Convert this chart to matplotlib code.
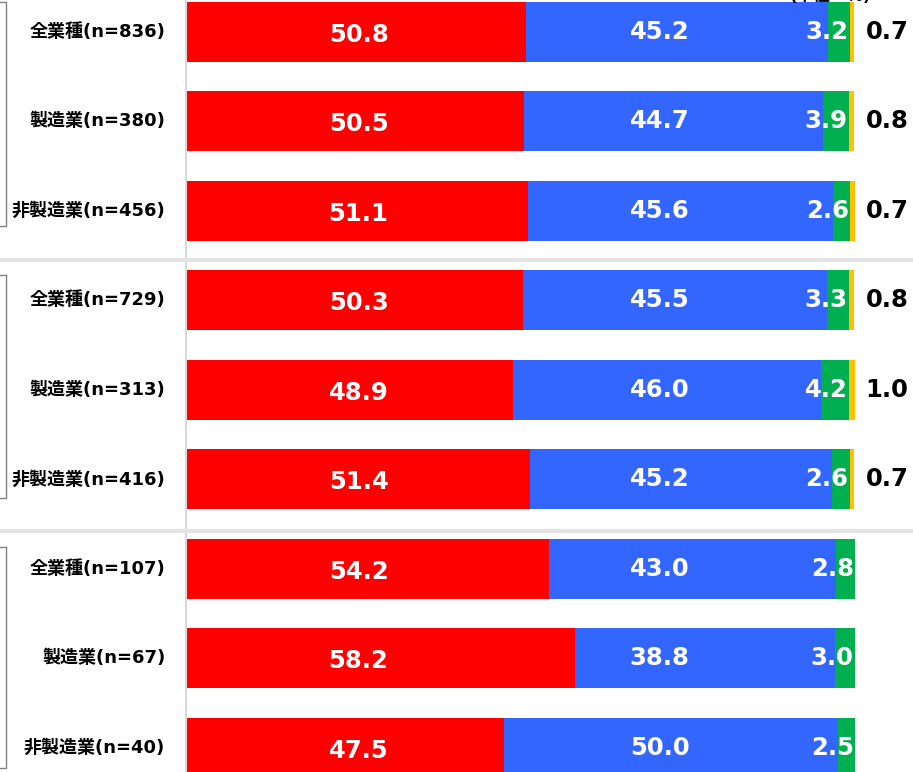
import numpy as np
import matplotlib
from matplotlib import pyplot as plt
from matplotlib.lines import Line2D

plt.rcParams['font.family'] = ['DejaVu Sans', 'Noto Sans CJK JP']

labels = ['全業種(n=836)', '製造業(n=380)', '非製造業(n=456)',
          '全業種(n=729)', '製造業(n=313)', '非製造業(n=416)',
          '全業種(n=107)', '製造業(n=67)', '非製造業(n=40)']
red = [50.8, 50.5, 51.1, 50.3, 48.9, 51.4, 54.2, 58.2, 47.5]
blue = [45.2, 44.7, 45.6, 45.5, 46.0, 45.2, 43.0, 38.8, 50.0]
green = [3.2, 3.9, 2.6, 3.3, 4.2, 2.6, 2.8, 3.0, 2.5]
yellow = [0.7, 0.8, 0.7, 0.8, 1.0, 0.7, 0.0, 0.0, 0.0]

colors = ['#FF0000', '#3366FF', '#00B050', '#FFC000']

W, H = 913, 772
fig = plt.figure(figsize=(W / 100, H / 100), dpi=100)
ax = fig.add_axes([186 / W, 0, 669 / W, 1])

step = 89.5
y = np.arange(len(labels))
ax.set_ylim((H - 32) / step, -32 / step)
ax.set_xlim(0, 100)

left = np.zeros(len(labels))
for vals, c in zip([red, blue, green, yellow], colors):
    vals = np.array(vals)
    ax.barh(y, vals, left=left, height=60 / step, color=c, linewidth=0)
    left += vals

num_font = dict(family='DejaVu Sans', fontweight='bold', fontsize=17.5)
for i in range(len(labels)):
    # label positions in the original sit near fixed columns rather than segment centres
    ax.text(25.8, i + 0.03, f'{red[i]:.1f}', ha='center', va='center', color='white', **num_font)
    ax.text(70.8, i, f'{blue[i]:.1f}', ha='center', va='center', color='white', **num_font)
    gx = red[i] + blue[i] + green[i]
    ax.text(gx - 0.2, i, f'{green[i]:.1f}', ha='right', va='center', color='white', **num_font)
    if yellow[i] > 0:
        ax.text(101.6, i, f'{yellow[i]:.1f}', ha='left', va='center', color='black',
                clip_on=False, **num_font)
    ax.text(-3.1, i, labels[i], ha='right', va='center', fontsize=13, fontweight='bold',
            color='black', clip_on=False)

ax.axis('off')

# vertical axis line
fig.add_artist(Line2D([186 / W, 186 / W], [0, 1], color='#d9d9d9', lw=1.5))

# group separators
for py in [260, 531]:
    yy = 1 - py / H
    fig.add_artist(Line2D([0, 1], [yy, yy], color='#e3e3e3', lw=3))

# brackets on the left
for top, bot in [(2, 226), (275, 498), (547, 768)]:
    xs = [0, 6 / W, 6 / W, 0]
    ys = [1 - top / H, 1 - top / H, 1 - bot / H, 1 - bot / H]
    fig.add_artist(Line2D(xs, ys, color='#808080', lw=1))

fig.text(790 / W, 1 - 5 / H, '(単位：%)', ha='left', va='bottom', fontsize=12, fontweight='bold')

fig.savefig('out.png', dpi=100)
